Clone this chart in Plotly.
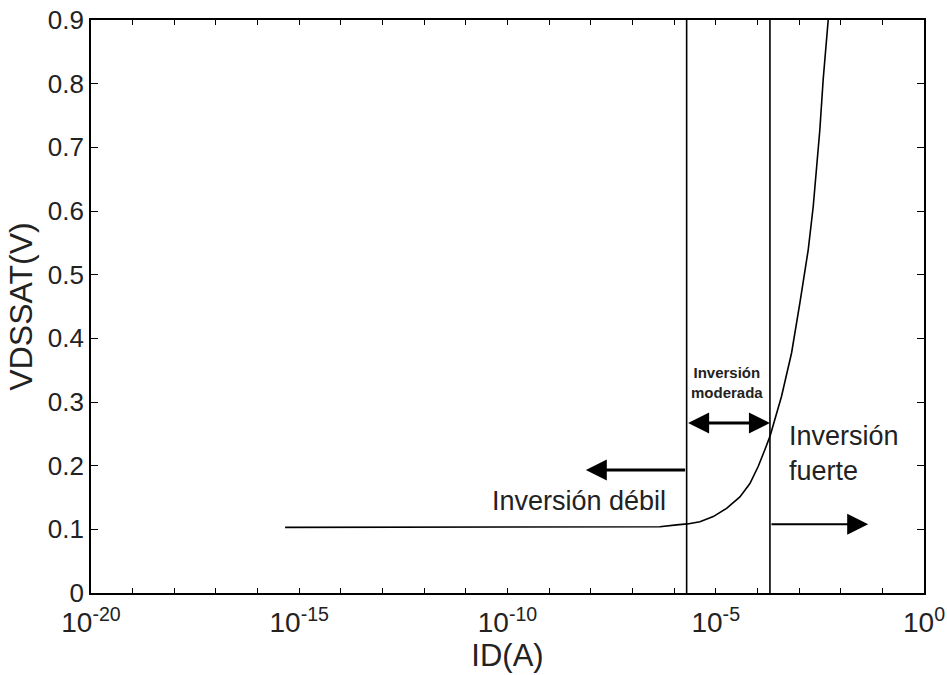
import math
import plotly.graph_objects as go

# ---- data ----
id_amp = [4.57e-16, 1.0e-7, 4.57e-7, 1.15e-6, 2.09e-6, 4.17e-6, 8.71e-6, 1.82e-5, 3.80e-5,
          6.61e-5, 1.05e-4, 1.51e-4, 2.0e-4, 3.80e-4, 6.61e-4, 1.05e-3, 1.66e-3,
          2.19e-3, 3.16e-3, 3.80e-3, 5.01e-3]
vdssat = [0.103, 0.1035, 0.104, 0.107, 0.1085, 0.112, 0.120, 0.133, 0.151,
          0.172, 0.199, 0.225, 0.246, 0.309, 0.377, 0.456, 0.539,
          0.607, 0.728, 0.807, 0.900]

boundaries = [2.0e-6, 2.0e-4]          # weak/moderate and moderate/strong limits
decades = list(range(-20, 1))           # x ticks (exponents)
y_ticks = [0, 0.1, 0.2, 0.3, 0.4, 0.5, 0.6, 0.7, 0.8, 0.9]
y_ticktext = ["0", "0.1", "0.2", "0.3", "0.4", "0.5", "0.6", "0.7", "0.8", "0.9"]

FONT = "Liberation Sans, Arial, sans-serif"
TXT = "#222222"

fig = go.Figure()

fig.add_trace(go.Scatter(x=id_amp, y=vdssat, mode="lines",
                         line=dict(color="black", width=1.6),
                         showlegend=False, hoverinfo="skip"))

for b in boundaries:
    fig.add_trace(go.Scatter(x=[b, b], y=[0, 0.9], mode="lines",
                             line=dict(color="black", width=1.6),
                             showlegend=False, hoverinfo="skip"))

tickvals = [10.0 ** d for d in decades]
ticktext = [("10<sup>%d</sup>" % d) if d % 5 == 0 else "" for d in decades]

fig.update_xaxes(type="log", range=[-20, 0], tickvals=tickvals, ticktext=ticktext,
                 ticks="inside", ticklen=5, tickwidth=1.2, tickcolor="black",
                 showline=True, linecolor="black", linewidth=1.6, mirror="ticks",
                 showgrid=False, zeroline=False, automargin=False,
                 ticklabelstandoff=4,
                 tickfont=dict(family=FONT, size=28, color=TXT),
                 title=dict(text="ID(A)", font=dict(family=FONT, size=31, color=TXT),
                            standoff=4))
fig.update_yaxes(range=[0, 0.9], tickvals=y_ticks, ticktext=y_ticktext,
                 ticks="inside", ticklen=7, tickwidth=1.2, tickcolor="black",
                 showline=True, linecolor="black", linewidth=1.6, mirror="ticks",
                 showgrid=False, zeroline=False, automargin=False,
                 tickfont=dict(family=FONT, size=26, color=TXT),
                 title=dict(text="VDSSAT(V)", font=dict(family=FONT, size=32, color=TXT),
                            standoff=6))

lb0, lb1 = math.log10(boundaries[0]), math.log10(boundaries[1])

annotations = [
    # double arrow: moderate inversion
    dict(x=lb1, y=0.267, ax=lb0, ay=0.267, xref="x", yref="y", axref="x", ayref="y",
         text="", showarrow=True, arrowhead=2, arrowside="end+start",
         arrowsize=1.4, arrowwidth=3, arrowcolor="black"),
    # left arrow: weak inversion
    dict(x=-8.12, y=0.193, ax=lb0, ay=0.193, xref="x", yref="y", axref="x", ayref="y",
         text="", showarrow=True, arrowhead=2, arrowsize=1.4, arrowwidth=3,
         arrowcolor="black"),
    # right arrow: strong inversion
    dict(x=-1.34, y=0.108, ax=lb1, ay=0.108, xref="x", yref="y", axref="x", ayref="y",
         text="", showarrow=True, arrowhead=2, arrowsize=2.1, arrowwidth=2,
         arrowcolor="black"),
    dict(x=-4.73, y=0.33, xref="x", yref="y", text="<b>Inversión<br>moderada</b>",
         showarrow=False, font=dict(family=FONT, size=15, color=TXT)),
    dict(x=-8.28, y=0.145, xref="x", yref="y", text="Inversión débil",
         showarrow=False, font=dict(family=FONT, size=27, color=TXT)),
    dict(x=-3.29, y=0.219, xref="x", yref="y", text="Inversión<br>fuerte",
         showarrow=False, xanchor="left", align="left",
         font=dict(family=FONT, size=27, color=TXT)),
]

fig.update_layout(width=947, height=675, autosize=False,
                  margin=dict(l=91, r=23, t=20, b=82),
                  paper_bgcolor="white", plot_bgcolor="white",
                  annotations=annotations)

fig.write_html("out.html",
               config={"displayModeBar": False},
               post_script="document.body.style.margin='0';document.body.style.overflow='hidden';")
